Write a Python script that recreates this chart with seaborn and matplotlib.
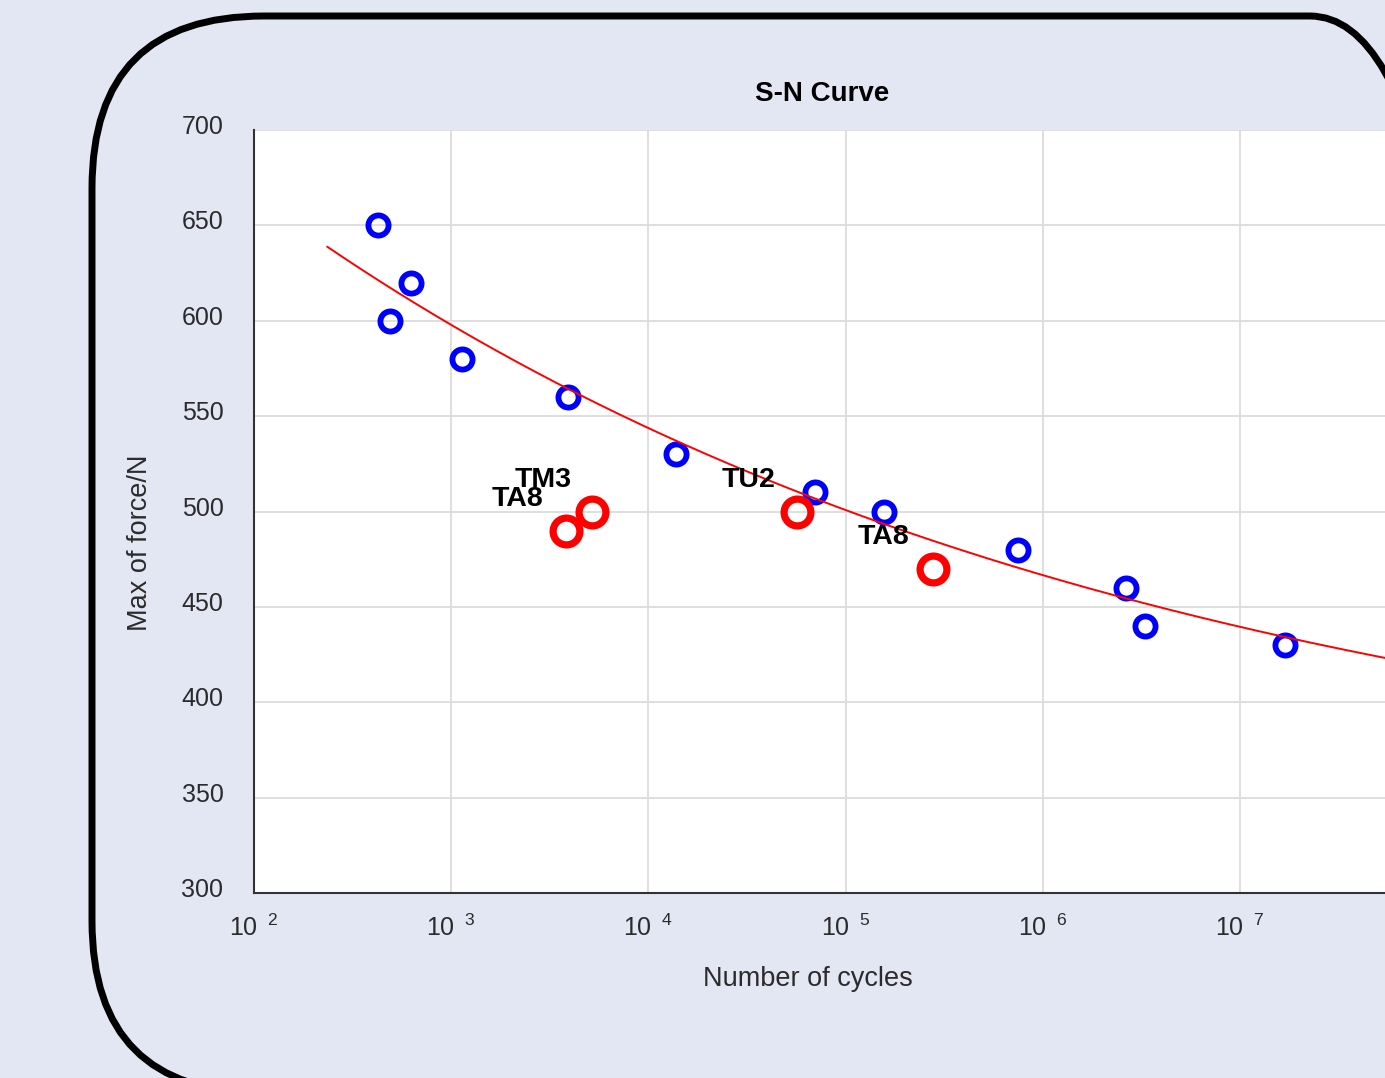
import numpy as np
import pandas as pd
import matplotlib
matplotlib.use("Agg")
import matplotlib.pyplot as plt
import matplotlib.transforms as mtransforms
from matplotlib.patches import FancyBboxPatch
from matplotlib.ticker import FixedLocator, FuncFormatter, NullLocator
import seaborn as sns

# ---------------- data ----------------
blue_cycles = [426, 627, 490, 1137, 3926, 13870, 69700, 156000, 746000, 2640000, 3300000, 16900000]
blue_force = [650, 620, 600, 580, 560, 530, 510, 500, 480, 460, 440, 430]
red_cycles = [3840, 5200, 57000, 277000]
red_force = [490, 500, 500, 470]
red_labels = ["TA8", "TM3", "TU2", "TA8"]
# fitted S-N model: S = c + a * N**b
fit_c, fit_a, fit_b = 335.0, 524.8, -0.1001
fit_n_min, fit_n_max = 235, 5.6e7
x_ticks = [1e2, 1e3, 1e4, 1e5, 1e6, 1e7]
y_ticks = [300, 350, 400, 450, 500, 550, 600, 650, 700]
title = "S-N Curve"
xlabel = "Number of cycles"
ylabel = "Max of force/N"

# ---------------- style ----------------
sns.set_theme(style="white")
bg = "#E3E7F3"
plt.rcParams["font.family"] = ["Liberation Sans", "DejaVu Sans"]
plt.rcParams["mathtext.fontset"] = "custom"
plt.rcParams["mathtext.rm"] = "Liberation Sans"
plt.rcParams["figure.facecolor"] = bg
text_col = "#2b2b2b"

W, H, DPI = 1385, 1078, 100
fig = plt.figure(figsize=(W / DPI, H / DPI), dpi=DPI)
fig.patch.set_facecolor(bg)

# axes placed in pixels
ax_left, ax_right, ax_top, ax_bottom = 254, 1390, 130, 893
ax = fig.add_axes([ax_left / W, 1 - ax_bottom / H, (ax_right - ax_left) / W, (ax_bottom - ax_top) / H])
ax.set_facecolor("white")

blue_df = pd.DataFrame({"cycles": blue_cycles, "force": blue_force})
red_df = pd.DataFrame({"cycles": red_cycles, "force": red_force})
n_fit = np.logspace(np.log10(fit_n_min), np.log10(fit_n_max), 300)
fit_df = pd.DataFrame({"cycles": n_fit, "force": fit_c + fit_a * n_fit ** fit_b})

sns.lineplot(data=blue_df, x="cycles", y="force", ax=ax, sort=False, estimator=None,
             linestyle="", marker="o", markersize=14.5, markerfacecolor="none",
             markeredgecolor="#0000FF", markeredgewidth=4.2, zorder=3)
sns.lineplot(data=red_df, x="cycles", y="force", ax=ax, sort=False, estimator=None,
             linestyle="", marker="o", markersize=19.3, markerfacecolor="none",
             markeredgecolor="#FF0000", markeredgewidth=5.2, zorder=4)
sns.lineplot(data=fit_df, x="cycles", y="force", ax=ax, sort=False, estimator=None,
             color="#FF0000", linewidth=1.4, zorder=5)

for xc, yc, lab in zip(red_cycles, red_force, red_labels):
    ax.text(xc / 1.78, yc + 13, lab, ha="center", va="baseline", fontsize=20.5,
            fontweight="bold", color="black", zorder=6)

ax.set_xscale("log")
ax.set_xlim(1e2, 10 ** (2 + (ax_right - ax_left) / 197.2))
ax.set_ylim(300, 700)
ax.xaxis.set_major_locator(FixedLocator(x_ticks))
ax.xaxis.set_minor_locator(NullLocator())
ax.yaxis.set_major_locator(FixedLocator(y_ticks))
ax.xaxis.set_major_formatter(FuncFormatter(
    lambda v, p: r"$\mathregular{10\;\,{}^{%d}}$" % int(round(np.log10(v)))))
ax.yaxis.set_major_formatter(FuncFormatter(lambda v, p: "%d" % v))

ax.grid(True, which="major", color="#DCDCDC", linewidth=1.3)
ax.set_axisbelow(True)
for s in ["top", "right"]:
    ax.spines[s].set_visible(False)
for s in ["left", "bottom"]:
    ax.spines[s].set_color("#333333")
    ax.spines[s].set_linewidth(1.5)

ax.tick_params(axis="both", which="major", direction="in", length=9.5, width=1.5,
               color="#333333", labelcolor=text_col, labelsize=18)
ax.tick_params(axis="y", pad=22)
ax.tick_params(axis="x", pad=15.5)
offset = mtransforms.ScaledTranslation(0, 0.055, fig.dpi_scale_trans)
for lab in ax.get_yticklabels():
    lab.set_transform(lab.get_transform() + offset)

ax.set_title(title, fontsize=20, fontweight="bold", color="black", pad=21)
ax.set_xlabel(xlabel, fontsize=19.5, color=text_col, va="baseline")
ax.xaxis.set_label_coords((808 - ax_left) / (ax_right - ax_left), -(986 - ax_bottom) / (ax_bottom - ax_top))
ax.set_ylabel(ylabel, fontsize=19.5, color=text_col, va="center", ha="center")
ax.yaxis.set_label_coords(-(ax_left - 140) / (ax_right - ax_left), (ax_bottom - 543) / (ax_bottom - ax_top))

# rounded frame (in inches, so the corner is circular)
box = FancyBboxPatch((0.92, -0.15), 13.90, 10.77,
                     boxstyle="round,pad=0,rounding_size=1.72",
                     transform=fig.dpi_scale_trans, facecolor="none",
                     edgecolor="black", linewidth=5.0, clip_on=False, zorder=10)
fig.add_artist(box)

fig.savefig("out.png", dpi=DPI, facecolor=bg)
